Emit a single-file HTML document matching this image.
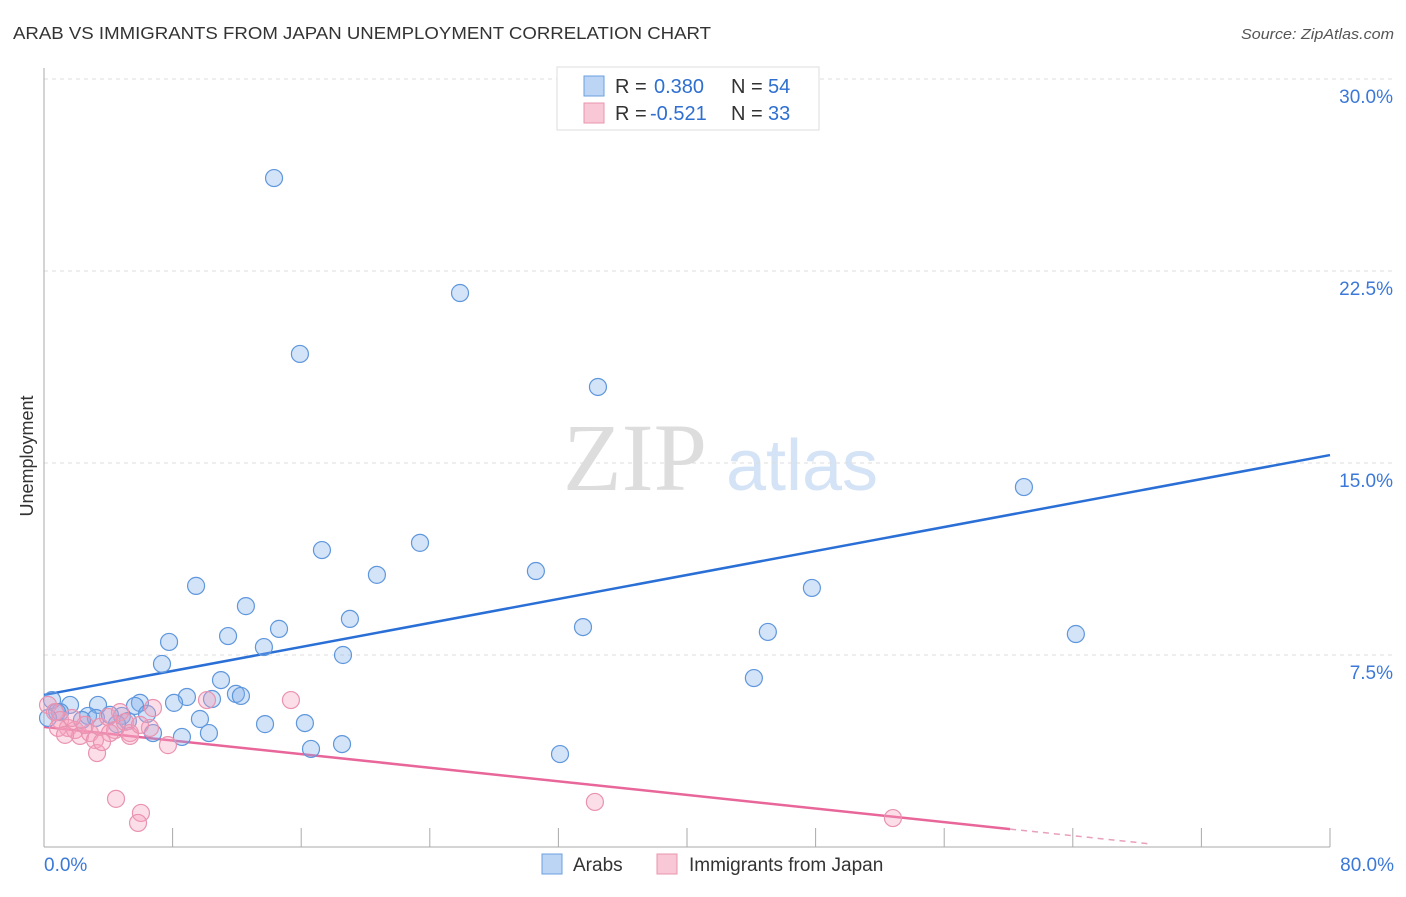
<!DOCTYPE html>
<html><head><meta charset="utf-8"><style>
body{margin:0;background:#fff;font-family:"Liberation Sans",sans-serif}
svg text{font-family:"Liberation Sans",sans-serif}
</style></head><body>
<svg id="chart" width="1406" height="892" xmlns="http://www.w3.org/2000/svg">
<text x="13" y="39" font-size="17.5" fill="#333" textLength="698" lengthAdjust="spacingAndGlyphs">ARAB VS IMMIGRANTS FROM JAPAN UNEMPLOYMENT CORRELATION CHART</text>
<text x="1241" y="39" font-size="15" fill="#555" font-style="italic" textLength="153" lengthAdjust="spacingAndGlyphs">Source: ZipAtlas.com</text>
<g>
<text x="635" y="490" font-size="96" fill="#ddd" text-anchor="middle" style="font-family:'Liberation Serif',serif">ZIP</text>
<text x="802" y="490" font-size="72" fill="#d4e3f5" text-anchor="middle">atlas</text>
</g>
<g id="grid"></g>
<g id="axes"></g>
<g id="lines"></g>
<g id="points"></g>
<text transform="translate(33,456) rotate(-90)" font-size="18" fill="#333" text-anchor="middle">Unemployment</text>
<g>
<rect x="557" y="67" width="262" height="63" fill="#fff" stroke="#ddd"/>
<rect x="584" y="76" width="20" height="20" fill="#bcd5f5" stroke="#6b9fe0"/>
<rect x="584" y="103" width="20" height="20" fill="#f9c8d6" stroke="#e995ae"/>
<text x="615" y="93" font-size="20" fill="#333">R =</text>
<text x="654" y="93" font-size="20" fill="#2e6fd0">0.380</text>
<text x="731" y="93" font-size="20" fill="#333">N =</text>
<text x="768" y="93" font-size="20" fill="#2e6fd0">54</text>
<text x="615" y="120" font-size="20" fill="#333">R =</text>
<text x="650" y="120" font-size="20" fill="#2e6fd0">-0.521</text>
<text x="731" y="120" font-size="20" fill="#333">N =</text>
<text x="768" y="120" font-size="20" fill="#2e6fd0">33</text>
</g>
<g>
<rect x="542" y="854" width="20" height="20" fill="#bcd5f5" stroke="#6b9fe0"/>
<text x="573" y="871" font-size="19" fill="#333">Arabs</text>
<rect x="657" y="854" width="20" height="20" fill="#f9c8d6" stroke="#e995ae"/>
<text x="689" y="871" font-size="19" fill="#333">Immigrants from Japan</text>
</g>
</svg>
<script>
const yTicks=[7.5,15,22.5,30];
const yTickLabels=["7.5%","15.0%","22.5%","30.0%"];
const xTickLabels=["0.0%","80.0%"];
const arabX=[14.31,25.88,15.92,34.46,60.96,17.29,23.39,20.71,30.60,9.46,47.77,12.56,19.03,7.78,14.62,33.53,11.45,45.03,64.19,13.68,18.60,7.34,44.16,11.01,8.89,11.94,12.25,10.45,5.97,8.09,0.50,1.62,1.00,3.36,5.66,6.41,2.74,3.23,4.85,9.70,16.23,13.75,5.22,4.54,6.78,10.26,8.58,16.61,18.54,32.10,0.81,0.25,2.36,4.10];
const arabY=[26.13,21.64,19.26,17.97,14.06,11.60,11.88,10.63,10.78,10.20,10.12,9.41,8.91,8.01,8.52,8.59,8.24,8.40,8.32,7.81,7.50,7.15,6.60,6.52,5.86,5.98,5.90,5.78,5.63,5.63,5.74,5.55,5.27,5.55,5.51,5.20,5.12,5.04,5.12,5.00,4.84,4.80,4.92,4.80,4.45,4.45,4.30,3.83,4.02,3.63,5.27,5.04,4.96,5.16];
const japanX=[0.25,0.68,1.00,1.49,0.87,1.93,2.24,2.86,3.17,2.55,3.48,3.98,4.42,4.73,5.04,5.35,6.78,5.35,3.30,7.71,10.14,15.36,4.48,6.03,5.85,34.27,52.81,4.10,1.31,1.74,3.61,6.59,5.97];
const japanY=[5.55,5.27,4.96,4.65,4.65,4.57,4.34,4.45,4.18,4.77,4.69,5.08,4.57,5.27,4.88,4.45,5.43,4.34,3.67,3.98,5.74,5.74,1.88,1.33,0.94,1.76,1.13,4.45,4.38,5.04,4.10,4.65,4.77];
const arabTrend=[5.94,15.31];
const japanTrend=[4.69,0.70,60.1,68.8];
const NS="http://www.w3.org/2000/svg";
const X=v=>44+v/80*1286, Y=v=>847-v*25.6;
function mk(tag,attrs,parent){const e=document.createElementNS(NS,tag);for(const k in attrs)e.setAttribute(k,attrs[k]);parent.appendChild(e);return e;}
const grid=document.getElementById('grid'),axes=document.getElementById('axes'),lines=document.getElementById('lines'),pts=document.getElementById('points');
yTicks.forEach((t,i)=>{
 const l=mk('line',{x1:44,x2:1394,y1:Y(t),y2:Y(t),stroke:'#ddd','stroke-dasharray':'4,4'},grid);
 
 
 const tx=mk('text',{x:1393,y:Y(t)+24,'font-size':19,fill:'#3b78d8','text-anchor':'end'},grid);
 tx.textContent=yTickLabels[i];
 
 
});
mk('line',{x1:44,x2:44,y1:68,y2:847,stroke:'#aaa'},axes);
mk('line',{x1:44,x2:1330,y1:847,y2:847,stroke:'#aaa'},axes);
for(let i=1;i<=10;i++){const t=mk('line',{x1:X(i*8),x2:X(i*8),y1:828,y2:847,stroke:'#aaa'},axes);
 
 }
[[0,'start',44],[80,'end',1394]].forEach((d,i)=>{const t=mk('text',{x:d[2],y:871,'font-size':19,fill:'#3b78d8','text-anchor':d[1]},axes);t.textContent=xTickLabels[i];
 
 });
const bl=mk('line',{x1:X(0),y1:Y(arabTrend[0]),x2:X(80),y2:Y(arabTrend[1]),stroke:'#2a6fd6','stroke-width':2.5},lines);


const slope=(japanTrend[1]-japanTrend[0])/japanTrend[2];
const pl=mk('line',{x1:X(0),y1:Y(japanTrend[0]),x2:X(japanTrend[2]),y2:Y(japanTrend[1]),stroke:'#e8669a','stroke-width':2.5},lines);


const pd=mk('line',{x1:X(japanTrend[2]),y1:Y(japanTrend[1]),x2:X(japanTrend[3]),y2:Y(japanTrend[0]+slope*japanTrend[3]),stroke:'#e8a0bc','stroke-width':1.5,'stroke-dasharray':'6,5'},lines);


arabX.forEach((v,i)=>{const c=mk('circle',{cx:X(v),cy:Y(arabY[i]),r:8.5,fill:'rgba(130,175,235,0.35)',stroke:'#5f97dc','stroke-width':1.2},pts);
 
 });
japanX.forEach((v,i)=>{const c=mk('circle',{cx:X(v),cy:Y(japanY[i]),r:8.5,fill:'rgba(245,160,190,0.35)',stroke:'#e993b0','stroke-width':1.2},pts);
 
 });
</script>
</body></html>
